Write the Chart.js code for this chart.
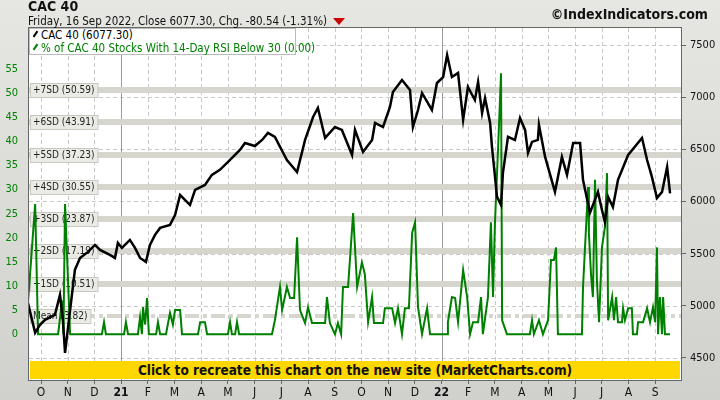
<!DOCTYPE html>
<html><head><meta charset="utf-8">
<script src="https://cdn.jsdelivr.net/npm/chart.js@4"></script>
<style>
body{margin:0;width:720px;height:400px;overflow:hidden;background:linear-gradient(#e6e6e2,#d0d0cc);font-family:"DejaVu Sans Condensed","DejaVu Sans",sans-serif;}
#wrap{position:absolute;left:0;top:0;width:720px;height:400px;}
#t1{position:absolute;left:28px;top:-2px;font-weight:bold;font-size:14px;color:#111;}
#t2{position:absolute;left:28px;top:14px;font-size:11.5px;color:#111;}
#tri{display:inline-block;width:0;height:0;border-left:6px solid transparent;border-right:6px solid transparent;border-top:7px solid #c00;margin-left:6px;vertical-align:middle;}
#cr{position:absolute;right:12px;top:6px;font-weight:bold;font-size:14px;color:#111;}
#leg{position:absolute;left:29px;top:28px;width:267px;height:27px;background:#fff;border:1px solid #bbb;font-size:11.5px;line-height:12.5px;padding-left:11px;box-sizing:border-box;white-space:nowrap;}
#leg div{position:relative}
#leg span.m{position:absolute;left:-9px;top:4px;width:7px;height:2px;transform:rotate(-55deg);}
#ban{position:absolute;left:30px;top:361px;width:650px;height:18px;background:#ffd700;text-align:center;font-weight:bold;font-size:13.5px;line-height:18px;color:#111;}
</style></head><body>
<div id="wrap"><canvas id="c" width="720" height="400"></canvas></div>
<div id="t1">CAC 40</div>
<div id="t2">Friday, 16 Sep 2022, Close 6077.30, Chg. -80.54 (-1.31%)<span id="tri"></span></div>
<div id="cr">©IndexIndicators.com</div>
<div id="leg"><div><span class="m" style="background:#000"></span>CAC 40 (6077.30)</div><div style="color:#008000"><span class="m" style="background:#008000"></span>% of CAC 40 Stocks With 14-Day RSI Below 30 (0.00)</div></div>
<div id="ban">Click to recreate this chart on the new site (MarketCharts.com)</div>
<script>
// x values: months since 1 Oct 2020
const monthLabels=["O","N","D","21","F","M","A","M","J","J","A","S","O","N","D","22","F","M","A","M","J","J","A","S"];
const cacX=[-0.49,-0.22,-0.04,0.15,0.52,0.71,0.82,0.90,1.09,1.27,1.46,1.76,2.02,2.21,2.58,2.77,2.88,3.03,3.33,3.52,3.71,3.93,4.08,4.27,4.46,4.83,5.02,5.21,5.39,5.58,5.77,6.14,6.40,6.70,7.08,7.45,7.64,8.01,8.28,8.50,8.76,9.21,9.59,9.89,10.19,10.37,10.64,11.01,11.27,11.65,11.76,12.06,12.40,12.51,12.81,13.07,13.18,13.52,13.82,13.93,14.12,14.27,14.64,14.83,15.06,15.21,15.39,15.62,15.81,15.99,16.25,16.37,16.52,16.63,16.82,16.89,17.08,17.23,17.30,17.49,17.75,17.94,18.13,18.24,18.39,18.61,18.65,18.88,19.25,19.51,19.70,19.93,20.19,20.30,20.56,20.86,21.01,21.12,21.24,21.42,21.61,21.99,22.51,22.70,22.88,23.07,23.26,23.45,23.56];
const cacY=[5028,4741,4818,4866,4913,5105,4866,4549,4961,5345,5459,5517,5584,5536,5488,5459,5603,5555,5632,5555,5459,5421,5584,5680,5747,5776,5871,6063,6015,5967,6111,6159,6255,6303,6398,6494,6561,6532,6590,6657,6619,6398,6283,6590,6810,6896,6609,6714,6686,6446,6686,6475,6590,6753,6714,6906,7050,7165,7069,6714,6877,7040,6877,7136,7193,7404,7193,7232,6782,7098,6973,7146,6849,6992,6753,6523,6044,5967,6274,6619,6590,6801,6686,6465,6571,6590,6734,6427,6092,6427,6255,6561,6561,6207,5891,6092,5919,5804,6044,5948,6207,6446,6609,6398,6236,6034,6092,6331,6077];
const rsiX=[-0.49,-0.22,-0.11,0.64,0.79,0.84,0.90,1.09,2.28,2.36,2.43,3.11,3.18,3.26,3.63,3.71,3.78,3.82,3.90,3.97,4.04,4.31,4.38,4.46,4.68,4.83,4.94,5.02,5.21,5.28,5.88,5.96,6.14,6.22,7.00,7.08,7.15,7.27,7.34,7.42,8.65,8.76,8.95,9.03,9.21,9.33,9.48,9.59,9.70,9.89,10.00,10.15,10.64,10.71,10.82,11.01,11.12,11.24,11.31,11.50,11.69,11.84,12.02,12.13,12.25,12.40,12.47,12.81,12.88,13.15,13.26,13.37,13.52,13.63,13.78,13.90,14.01,14.12,14.27,14.46,14.57,15.21,15.24,15.39,15.51,15.62,15.81,15.96,16.07,16.18,16.37,16.48,16.55,16.74,16.85,16.93,17.00,17.12,17.23,17.27,17.45,18.31,18.39,18.46,18.65,18.80,18.99,19.10,19.21,19.29,19.36,20.26,20.30,20.49,20.52,20.60,20.67,20.75,20.82,20.90,21.01,21.12,21.20,21.24,21.39,21.46,21.54,21.61,21.76,21.80,21.87,21.99,22.13,22.17,22.32,22.36,22.55,22.70,22.81,22.92,23.00,23.07,23.11,23.18,23.26,23.30,23.37,23.56];
const rsiY=[6.4,27,0,0,7,0,27,0,0,2.5,0,0,2.5,0,0,3.5,0,5.6,2,7.5,0,0,2.5,0,0,4.4,2,5,5,0,0,2.5,2.5,0,0,2.5,0,0,2.5,0,0,2.9,9.8,5,9.8,7.5,7.5,20.1,5,2.3,5.6,2.3,2.3,7.7,2.3,0,2.3,0,9.8,9.8,25.1,9.8,14.9,12.4,2.5,7.7,2.3,2.3,5.4,5.4,2.3,5.4,0,5.4,5.4,21,23.2,5.6,0,5.4,0,0,2.5,7.7,7.5,2.5,13.3,7.7,0,2.5,2.5,7.7,0,7.7,23.2,7.7,22.8,38.8,54.1,2.9,0,0,2.9,0,2.9,0,2.9,15.4,15.4,18,0,0,9.8,30.5,21,12.4,7.7,32,11.2,2.5,18,22.2,33.4,2.9,7.7,2.9,7.7,2.5,2.5,5.4,2.9,5.4,5.4,0,0,2.5,2.5,5.4,2.5,5.6,2.5,18,0,7.7,0,7.7,0,0];
const sdNames=["+7SD","+6SD","+5SD","+4SD","+3SD","+2SD","+1SD"];
const sdValues=[50.59,43.91,37.23,30.55,23.87,17.19,10.51];
const meanValue=3.82;
const FONT='"DejaVu Sans Condensed","DejaVu Sans"';

const bands={id:'bands',beforeDatasetsDraw(ch){
  const c=ch.ctx,a=ch.chartArea,y=ch.scales.yL,x=ch.scales.x,yr=ch.scales.yR;
  c.save();
  c.lineWidth=1;c.setLineDash([4,3]);c.strokeStyle='#c8c8c8';
  yr.ticks.forEach(t=>{const p=Math.round(yr.getPixelForValue(t.value))+0.5;c.beginPath();c.moveTo(a.left,p);c.lineTo(a.right,p);c.stroke();});
  x.ticks.forEach((t,i)=>{if(i===3||i===15)return;const p=Math.round(x.getPixelForValue(t.value))+0.5;c.beginPath();c.moveTo(p,a.top);c.lineTo(p,a.bottom);c.stroke();});
  c.setLineDash([]);c.strokeStyle='#9a9a9a';
  [3,15].forEach(i=>{const p=Math.round(x.getPixelForValue(i))+0.5;c.beginPath();c.moveTo(p,a.top);c.lineTo(p,a.bottom);c.stroke();});
  c.strokeStyle='#d6d6ce';c.lineWidth=6;
  sdValues.forEach(v=>{const p=Math.round(y.getPixelForValue(v));c.beginPath();c.moveTo(a.left,p);c.lineTo(a.right,p);c.stroke();});
  const pm=Math.round(y.getPixelForValue(meanValue));
  c.lineWidth=4;c.setLineDash([14,4,4,4]);c.beginPath();c.moveTo(a.left,pm);c.lineTo(a.right,pm);c.stroke();c.setLineDash([]);
  c.font='10px '+FONT;c.textBaseline='middle';
  const lab=(t,p)=>{const w=c.measureText(t).width+6;c.fillStyle='#ebebe6';c.fillRect(a.left+1,p-7,w,14);c.strokeStyle='#c8c8c0';c.lineWidth=1;c.strokeRect(a.left+1.5,p-6.5,w,14);c.fillStyle='#222';c.fillText(t,a.left+4,p+0.5);};
  sdValues.forEach((v,i)=>lab(sdNames[i]+' ('+v.toFixed(2)+')',Math.round(y.getPixelForValue(v))));
  lab('Mean ('+meanValue.toFixed(2)+')',pm);
  c.restore();
},afterDraw(ch){const c=ch.ctx,a=ch.chartArea;c.save();c.strokeStyle='#666';c.lineWidth=1;c.strokeRect(a.left-0.5,a.top-0.5,a.right-a.left+1,a.bottom-a.top+1);c.restore();}};
const white={id:'white',beforeDraw(ch){const a=ch.chartArea;ch.ctx.fillStyle='#fff';ch.ctx.fillRect(a.left,a.top,a.right-a.left,a.bottom-a.top);}};

new Chart(document.getElementById('c'),{
 type:'line',
 data:{datasets:[
  {data:cacX.map((x,i)=>({x,y:cacY[i]})),yAxisID:'yR',borderColor:'#000',borderWidth:2.5,pointRadius:0,tension:0},
  {data:rsiX.map((x,i)=>({x,y:rsiY[i]})),yAxisID:'yL',borderColor:'#008000',borderWidth:2,pointRadius:0,tension:0}
 ]},
 options:{responsive:false,animation:false,events:[],
  layout:{padding:{top:28,left:0,right:0,bottom:0}},
  plugins:{legend:{display:false},tooltip:{enabled:false}},
  scales:{
   x:{type:'linear',min:-0.45,max:23.97,afterFit(s){s.height=20;},
      afterBuildTicks(s){s.ticks=monthLabels.map((_,i)=>({value:i}));},
      ticks:{autoSkip:false,maxRotation:0,padding:2,color:'#111',font:(ctx)=>({family:FONT,size:12,weight:(ctx.index===3||ctx.index===15)?'bold':'normal'}),callback:(v,i)=>monthLabels[i]},
      grid:{drawOnChartArea:false,color:'#666',tickLength:4},border:{display:false}},
   yL:{position:'left',min:-9.5,max:63.5,afterFit(s){s.width=29;},
      afterBuildTicks(s){const t=[];for(let v=0;v<=55;v+=5)t.push({value:v});s.ticks=t;},
      ticks:{color:'#008000',font:{family:FONT,size:11},padding:3,callback:v=>String(v)},
      grid:{display:false},border:{display:false}},
   yR:{position:'right',min:4289,max:7663,afterFit(s){s.width=39;},
      afterBuildTicks(s){const t=[];for(let v=4500;v<=7500;v+=500)t.push({value:v});s.ticks=t;},
      ticks:{color:'#111',font:{family:FONT,size:11},padding:4,callback:v=>String(v)},
      grid:{drawOnChartArea:false,color:'#666',tickLength:5},border:{display:false}}
  }},
 plugins:[white,bands]
});
</script></body></html>
